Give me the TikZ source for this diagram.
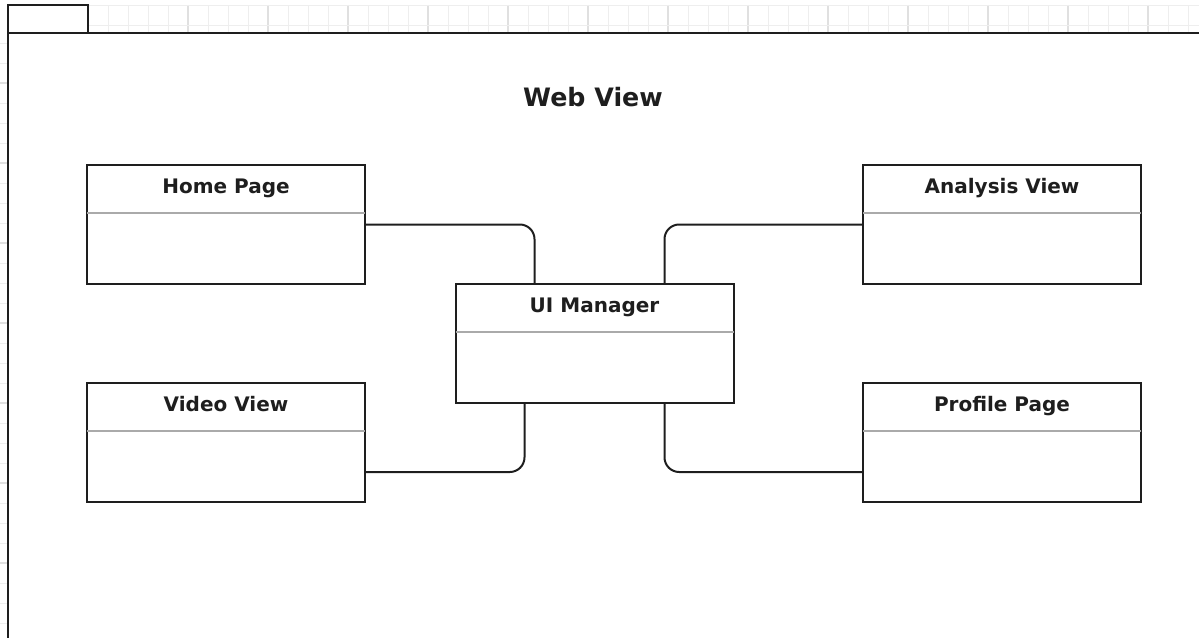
\documentclass[tikz,border=0pt]{standalone}
\usepackage{fontspec}
\setmainfont{DejaVu Sans}
\usetikzlibrary{calc}
\definecolor{ink}{HTML}{1E1E1E}
\definecolor{gridc}{HTML}{EEEEEE}
\definecolor{gridm}{HTML}{E0E0E0}
\definecolor{divc}{HTML}{AAAAAA}
\tikzset{
  classbox/.style={draw=ink, line width=1.5pt, fill=white, rectangle, minimum width=208.5pt, minimum height=89.25pt, inner sep=0pt},
  classlabel/.style={font=\bfseries\fontsize{15}{18}\selectfont, text=ink, anchor=center, inner sep=0pt, text height=11pt, text depth=3pt},
  divider/.style={draw=divc, line width=1.1pt},
  conn/.style={draw=ink, line width=1.5pt, rounded corners=11pt},
  frame/.style={draw=ink, line width=1.5pt},
  minorgrid/.style={draw=gridc, line width=0.6pt},
  majorgrid/.style={draw=gridm, line width=0.8pt}
}
\begin{document}
\begin{tikzpicture}[x=0.75pt,y=-0.75pt]
\useasboundingbox (0,0) rectangle (1199,638);
% top ruler grid
\foreach \gx in {108,128,...,1198} \draw[minorgrid] (\gx,5) -- (\gx,33);
\foreach \gx in {188,268,...,1198} \draw[majorgrid] (\gx,5) -- (\gx,33);
\draw[minorgrid] (88,5) -- (1199,5);
\draw[minorgrid] (88,25) -- (1199,25);
% left ruler ticks
\foreach \gy in {43,63,...,638} \draw[minorgrid] (0,\gy) -- (8,\gy);
\foreach \gy in {83,163,...,638} \draw[majorgrid] (0,\gy) -- (8,\gy);
% frame
\draw[frame] (8,638) -- (8,5) -- (88,5) -- (88,33);
\draw[frame] (8,33) -- (1199,33);
% title
\node[font=\bfseries\fontsize{19}{22}\selectfont, text=ink] (title) at (593,97) {Web View};
% boxes
\node[classbox] (home) at (226,224.5) {};
\node[classbox] (analysis) at (1002,224.5) {};
\node[classbox] (ui) at (594.5,343.5) {};
\node[classbox] (video) at (226,442.5) {};
\node[classbox] (profile) at (1002,442.5) {};
\foreach \b/\t in {home/Home Page, analysis/Analysis View, ui/UI Manager, video/Video View, profile/Profile Page}{
  \draw[divider] ($(\b.north west)+(1,49)$) -- ($(\b.north east)+(-1,49)$);
  \node[classlabel] (\b-label) at ($(\b.north)+(0,24)$) {\t};
}
% connectors
\draw[conn] (home.east) -| ($(ui.north west)+(80,0)$);
\draw[conn] (analysis.west) -| ($(ui.north east)+(-70,0)$);
\draw[conn] ($(video.east)+(0,29.5)$) -| ($(ui.south west)+(70,0)$);
\draw[conn] ($(profile.west)+(0,29.5)$) -| ($(ui.south east)+(-70,0)$);
\end{tikzpicture}
\end{document}
